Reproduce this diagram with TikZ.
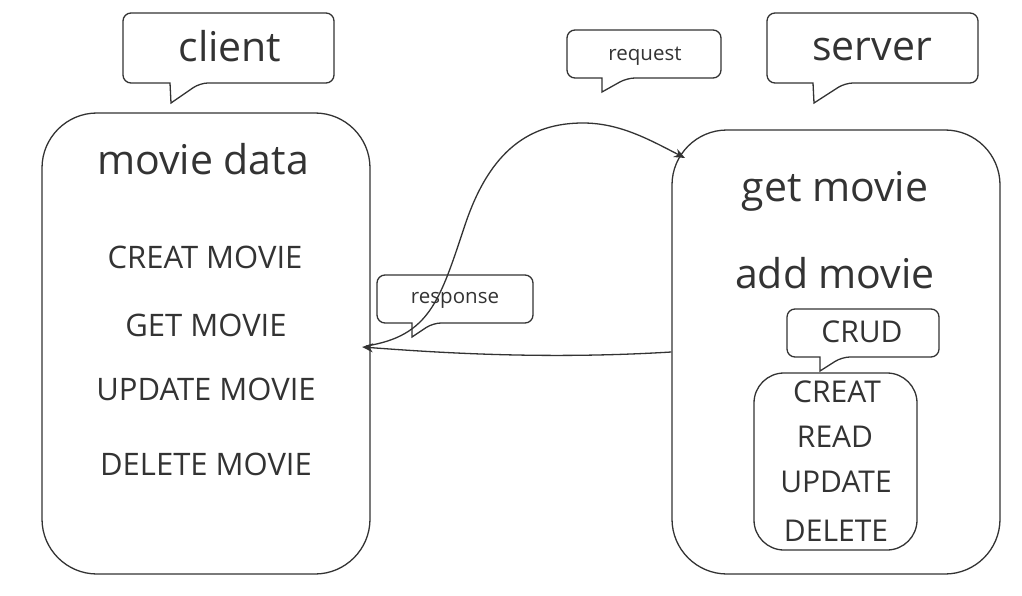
\documentclass[tikz,border=0pt]{standalone}
\usepackage{fontspec}
\setmainfont{Open Sans}
\usetikzlibrary{arrows.meta}
\definecolor{ink}{HTML}{333333}
\newcommand{\fs}[1]{\fontsize{#1}{#1}\selectfont}
\begin{document}
\begin{tikzpicture}[x=1pt, y=-1pt, line width=1.3pt, draw=ink, text=ink,
    every node/.style={inner sep=0pt, text=ink, anchor=base},
    box/.style={draw=ink, rounded corners=55pt, minimum width=328pt, anchor=center},
    big/.style={font=\fs{41}},
    mid/.style={font=\fs{31}},
    inner/.style={font=\fs{30}},
    small/.style={font=\fs{20.5}},
    arr/.style={draw=ink, -{Stealth[length=11pt, width=9pt]}}]
    \useasboundingbox (0,0) rectangle (1022,596);

    % speech bubbles
    \draw[rounded corners=8pt] (170,83) -- (123,83) -- (123,13) -- (334,13) -- (334,83) -- (200,83) [sharp corners] -- (171,103) -- cycle;
    \draw[rounded corners=8pt] (813,83) -- (767,83) -- (767,13) -- (978,13) -- (978,83) -- (845,83) [sharp corners] -- (814,103) -- cycle;
    \draw[rounded corners=8pt] (602,78) -- (567,78) -- (567,30) -- (721,30) -- (721,78) -- (627,78) [sharp corners] -- (602,92) -- cycle;
    \draw[rounded corners=8pt] (412,323) -- (377,323) -- (377,275) -- (533,275) -- (533,323) -- (433,323) [sharp corners] -- (412,337) -- cycle;
    \draw[rounded corners=8pt] (820,357) -- (787,357) -- (787,309) -- (939,309) -- (939,357) -- (842,357) [sharp corners] -- (820,371) -- cycle;

    \node[big] (client) at (230,62) {client};
    \node[big] (server) at (872,61) {server};
    \node[small] (request) at (645,61) {request};
    \node[small] (response) at (455,303) {response};
    \node[inner] (crud) at (862,342) {CRUD};

    % boxes
    \node[box, minimum height=461pt] (clientbox) at (206,343.5) {};
    \node[box, minimum height=444pt] (serverbox) at (836,352) {};
    \node[draw=ink, rounded corners=30pt, minimum width=163pt, minimum height=177pt, anchor=center] (crudbox) at (835.5,461.5) {};

    % client side
    \node[big] (moviedata) at (203,175) {movie data};
    \node[mid] (creatmovie) at (205,268) {CREAT MOVIE};
    \node[mid] (getmovie) at (206,336) {GET MOVIE};
    \node[mid] (updatemovie) at (206,400) {UPDATE MOVIE};
    \node[mid] (deletemovie) at (206,475) {DELETE MOVIE};

    % server side
    \node[big] (get) at (835,201) {get movie};
    \node[big] (add) at (835,288) {add movie};
    \node[inner] (creat) at (837,402) {CREAT};
    \node[inner] (read) at (835,447) {READ};
    \node[inner] (update) at (836,492) {UPDATE};
    \node[inner] (delete) at (836,541) {DELETE};

    % arrows
    \coordinate (tip) at (362,347);
    \coordinate (hit) at (685,158);
    \draw[arr] (serverbox.west) .. controls (540,360) and (430,352) .. (tip);
    \draw[arr] (366,346) .. controls (430,336) and (440,300) .. (465,225)
        .. controls (490,150) and (530,123) .. (583,123)
        .. controls (620,123) and (650,140) .. (hit);
\end{tikzpicture}
\end{document}
